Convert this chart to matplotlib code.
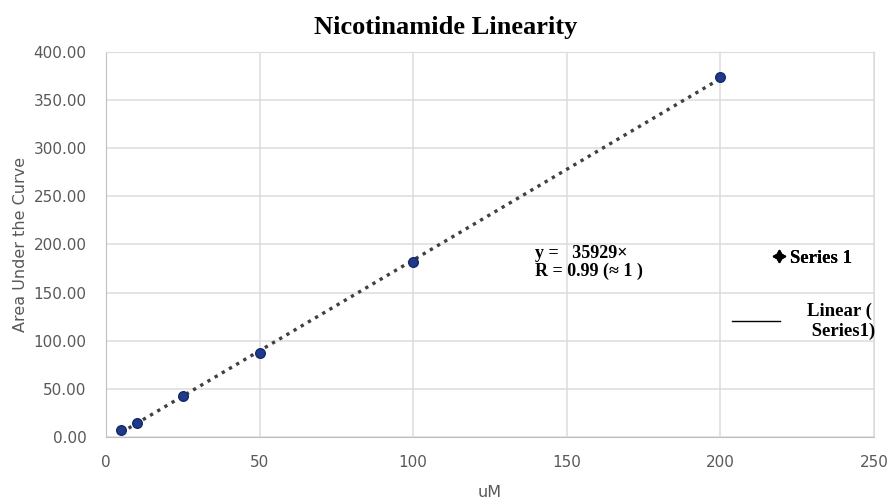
import matplotlib
matplotlib.use('Agg')
import matplotlib.pyplot as plt
import numpy as np
from matplotlib.lines import Line2D

# concentration (uM) and measured area under the curve
conc = [5, 10, 25, 50, 100, 200]
area = [7.5, 14.5, 42.5, 87.0, 181.5, 374.0]

x_ticks = [0, 50, 100, 150, 200, 250]
y_ticks = [0, 50, 100, 150, 200, 250, 300, 350, 400]

fig = plt.figure(figsize=(8.91, 5.04), dpi=100)
ax = fig.add_axes([0.119, 0.133, 0.862, 0.764])

# linear trendline over the data range
slope, icept = np.polyfit(conc, area, 1)
xs = np.array([min(conc), max(conc)])
ax.plot(xs, slope * xs + icept, linestyle=(0, (1, 1.5)), color='#404040', linewidth=2.4, zorder=3)
ax.scatter(conc, area, s=48, color='#1f3a8a', edgecolors='#15286a', zorder=4)

ax.set_xlim(0, 250)
ax.set_ylim(0, 400)
ax.set_xticks(x_ticks)
ax.set_yticks(y_ticks)
ax.set_yticklabels(['%.2f' % v for v in y_ticks])
ax.grid(True, color='#dcdcdc', linewidth=1.1)
ax.set_axisbelow(True)
for s in ax.spines.values():
    s.set_color('#dcdcdc')
ax.spines['left'].set_color('#c0c0c0')
ax.spines['bottom'].set_color('#c0c0c0')
ax.tick_params(length=0, labelsize=11, colors='#595959', pad=14)
ax.tick_params(axis='x', pad=13)

ax.set_xlabel('uM', fontsize=11.5, color='#595959', labelpad=11)
ax.set_ylabel('Area Under the Curve', fontsize=11.5, color='#595959', labelpad=4)
fig.text(0.5, 0.946, 'Nicotinamide Linearity', ha='center', va='center',
         fontsize=19, fontweight='bold', family='Liberation Serif')

# equation box text
ax.text(139.5, 199, 'y =   35929\u00d7\nR = 0.99 (\u2248 1 )', fontsize=13, fontweight='bold',
        family='Liberation Serif', va='top', ha='left', linespacing=1.05)

lprop = {'family': 'Liberation Serif', 'weight': 'bold', 'size': 13.5}
leg1 = fig.legend([Line2D([], [], linestyle='none', marker=(4, 1, 0), color='black', markersize=9)],
                  ['Series 1'], loc='center left', bbox_to_anchor=(0.864, 0.488),
                  frameon=False, handlelength=1.0, handletextpad=0.1,
                  borderpad=0, borderaxespad=0, prop=lprop)
leg2 = fig.legend([Line2D([], [], color='black', linewidth=1)],
                  ['Linear (\n Series1)'], loc='center left', bbox_to_anchor=(0.821, 0.362),
                  frameon=False, handlelength=2.56, handletextpad=1.45,
                  borderpad=0, borderaxespad=0, prop=lprop)
fig.add_artist(leg1)

fig.savefig('out.png', dpi=100)
